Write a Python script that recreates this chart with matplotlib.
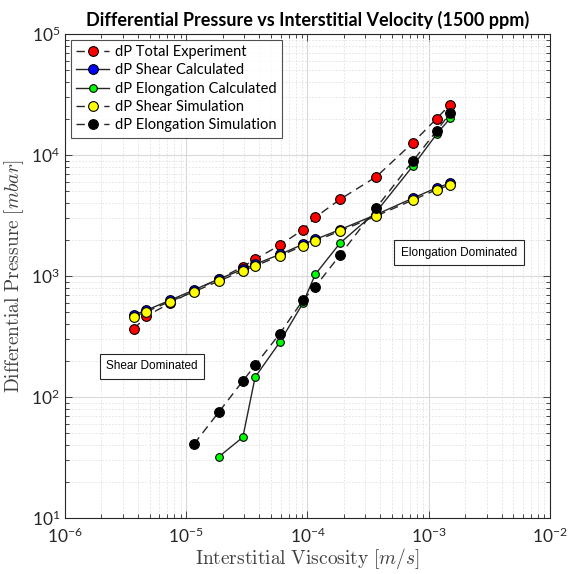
"""Differential pressure vs interstitial velocity, log-log comparison."""

import matplotlib
matplotlib.use("Agg")
import matplotlib.pyplot as plt
from matplotlib.ticker import LogLocator, LogFormatterMathtext, NullFormatter

plt.rcParams["font.family"] = ["Lato", "DejaVu Sans"]
plt.rcParams["mathtext.fontset"] = "custom"
plt.rcParams["mathtext.rm"] = "Lato"
plt.rcParams["mathtext.it"] = "Lato:italic"

velocity = [3.7e-6, 4.7e-6, 7.3e-6, 1.16e-5, 1.86e-5, 2.93e-5, 3.7e-5, 5.9e-5,
            9.2e-5, 1.16e-4, 1.86e-4, 3.7e-4, 7.4e-4, 1.16e-3, 1.5e-3]

dp_total_exp = [365, 467, 594, 757, 944, 1193, 1374, 1795,
                2414, 3056, 4304, 6620, 12650, 19950, 26080]
dp_shear_calc = [478, 522, 628, 768, 945, 1135, 1250, 1505,
                 1830, 2005, 2420, 3220, 4400, 5350, 5850]
dp_shear_sim = [461, 507, 614, 741, 910, 1099, 1210, 1464,
                1778, 1946, 2353, 3133, 4250, 5165, 5650]
# elongation series start later
dp_elong_calc = [32.1, 46.5, 146, 283, 600, 1032, 1875, 3400, 8110, 14830, 20100]
dp_elong_sim = [40.9, 75.2, 135.6, 183, 333, 634, 817, 1494, 3670, 8910, 15850, 22130]

fig = plt.figure(figsize=(5.68, 5.74), dpi=100)
ax = fig.add_axes([0.1144, 0.0976, 0.8539, 0.8432])

mk = dict(marker="o", ms=7, mec="k", mew=0.8, color="#262626", lw=1.0)
ax.plot(velocity, dp_total_exp, ls=(0, (6, 4)), mfc="#ff0000",
        label="dP Total Experiment", **mk)
ax.plot(velocity, dp_shear_calc, ls="-", mfc="#0000ff",
        label="dP Shear Calculated", **mk)
ax.plot(velocity[4:], dp_elong_calc, ls="-", mfc="#00ff00",
        label="dP Elongation Calculated", marker="o", ms=5.5, mec="k",
        mew=0.8, color="#262626", lw=1.0)
ax.plot(velocity, dp_shear_sim, ls=(0, (6, 4)), mfc="#ffff00",
        label="dP Shear Simulation", **mk)
ax.plot(velocity[3:], dp_elong_sim, ls=(0, (6, 4)), mfc="#000000",
        label="dP Elongation Simulation", **mk)

ax.set_xscale("log")
ax.set_yscale("log")
ax.set_xlim(1e-6, 1e-2)
ax.set_ylim(1e1, 1e5)
for axis in (ax.xaxis, ax.yaxis):
    axis.set_major_locator(LogLocator(base=10, numticks=10))
    axis.set_minor_locator(LogLocator(base=10, subs=range(2, 10), numticks=20))
    axis.set_major_formatter(LogFormatterMathtext())
    axis.set_minor_formatter(NullFormatter())

ax.tick_params(which="both", direction="in", top=True, right=True,
               colors="#262626", labelsize=12.5, width=0.6)
ax.tick_params(which="major", length=5)
ax.tick_params(which="minor", length=3)
ax.tick_params(axis="x", pad=6)
ax.grid(True, which="major", color="#d9d9d9", lw=0.8)
ax.grid(True, which="minor", color="#e0e0e0", lw=0.6, ls=(0, (2, 2)))
ax.set_axisbelow(True)
for sp in ax.spines.values():
    sp.set_color("#262626")
    sp.set_linewidth(0.8)

ax.set_xlabel(r"$\mathrm{Interstitial\ Viscosity}\ [m/s]$", fontsize=14,
              color="#404040", math_fontfamily="cm", labelpad=0)
ax.set_ylabel(r"$\mathrm{Differential\ Pressure}\ [mbar]$", fontsize=14,
              color="#404040", math_fontfamily="cm", labelpad=4)
ax.set_title("Differential Pressure vs Interstitial Velocity (1500 ppm)",
             fontsize=13, fontweight="bold", pad=6)

leg = ax.legend(loc="upper left", fontsize=10.5, frameon=True, fancybox=False,
                edgecolor="#262626", handlelength=2.3, borderpad=0.35,
                labelspacing=0.3, handletextpad=0.4, borderaxespad=0.4)
leg.get_frame().set_linewidth(0.8)

box = dict(boxstyle="square,pad=0.55", fc="white", ec="#262626", lw=0.8)
ax.text(2.2e-6, 180, "Shear Dominated", fontsize=8.5, va="center", ha="left",
        family=["Liberation Sans"], bbox=box)
ax.text(5.9e-4, 1560, "Elongation Dominated", fontsize=8.5, va="center",
        ha="left", family=["Liberation Sans"], bbox=box)

fig.savefig("out.png", dpi=100)
